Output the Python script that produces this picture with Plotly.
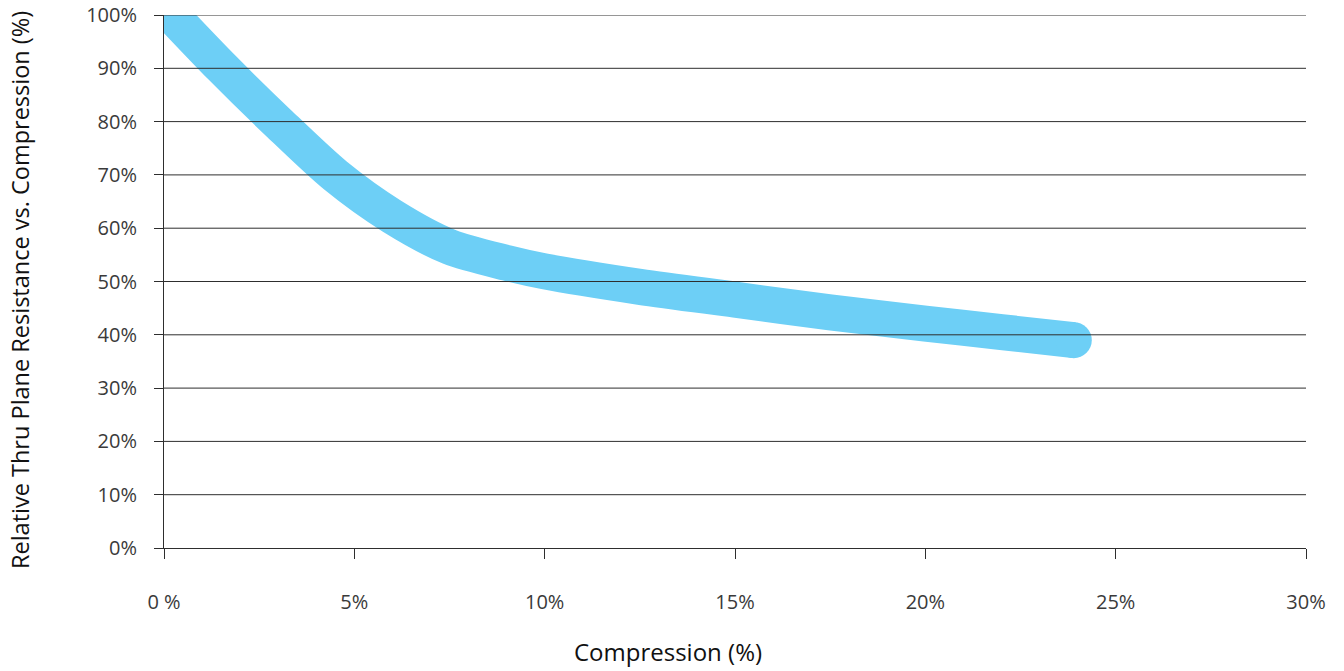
import plotly.graph_objects as go

# Data
compression_pct = [0, 1.5, 3.0, 4.5, 6.0, 7.5, 9.0, 10.0, 12.5, 15.0, 17.5, 20.0, 22.0, 23.9]
resistance_pct = [101.5, 90.3, 79.8, 69.9, 62.2, 56.5, 53.5, 51.9, 49.0, 46.6, 44.2, 42.1, 40.5, 39.0]

x_tickvals = [0, 5, 10, 15, 20, 25, 30]
x_ticktext = ["0 %", "5%", "10%", "15%", "20%", "25%", "30%"]
y_tickvals = [0, 10, 20, 30, 40, 50, 60, 70, 80, 90, 100]
y_ticktext = [f"{v}%" for v in y_tickvals]

x_title = "Compression (%)"
y_title = "Relative Thru Plane Resistance vs. Compression (%)"

LINE_COLOR = "#6dcff6"
GRID_COLOR = "#2e2e2e"
FONT = "Open Sans"

fig = go.Figure()
fig.add_trace(go.Scatter(
    x=compression_pct, y=resistance_pct, mode="lines",
    line=dict(color=LINE_COLOR, width=36, shape="spline", smoothing=0.8),
    hoverinfo="skip", showlegend=False,
))
# rounded cap at the end of the band
fig.add_trace(go.Scatter(
    x=compression_pct[-1:], y=resistance_pct[-1:], mode="markers",
    marker=dict(color=LINE_COLOR, size=36, line=dict(width=0)),
    hoverinfo="skip", showlegend=False,
))

# horizontal gridlines drawn above the band
for v in y_tickvals[1:]:
    fig.add_shape(type="line", xref="paper", yref="y", x0=0, x1=1, y0=v, y1=v,
                  line=dict(color=GRID_COLOR, width=1), layer="above")

# axis titles (centred on the whole figure, as in the reference)
fig.add_annotation(text=x_title, xref="paper", yref="paper", x=0.4413, y=-0.195,
                   xanchor="center", yanchor="middle", showarrow=False,
                   font=dict(family=FONT, size=24, color="#111"))
fig.add_annotation(text=y_title, xref="paper", yref="paper", x=-0.1261, y=0.484,
                   xanchor="center", yanchor="middle", showarrow=False, textangle=-90,
                   font=dict(family=FONT, size=23.5, color="#111"))

fig.update_layout(
    width=1344, height=671,
    margin=dict(l=164, r=38, t=15, b=123, autoexpand=False),
    paper_bgcolor="white", plot_bgcolor="white",
    font=dict(family=FONT, color="#3a3a3a", size=20),
    showlegend=False,
)
fig.update_xaxes(
    range=[0, 30], tickvals=x_tickvals, ticktext=x_ticktext,
    showgrid=False, zeroline=False, automargin=False,
    showline=True, linecolor=GRID_COLOR, linewidth=1,
    ticks="outside", ticklen=10, tickcolor=GRID_COLOR, tickwidth=1,
    ticklabelstandoff=26, ticklabeloverflow="allow",
    tickfont=dict(family=FONT, size=20, color="#3a3a3a"),
)
fig.update_yaxes(
    range=[0, 100], tickvals=y_tickvals, ticktext=y_ticktext,
    showgrid=False, zeroline=False, automargin=False,
    showline=True, linecolor=GRID_COLOR, linewidth=1,
    ticks="outside", ticklen=9, tickcolor=GRID_COLOR, tickwidth=1,
    ticklabelstandoff=13, ticklabeloverflow="allow",
    tickfont=dict(family=FONT, size=20, color="#3a3a3a"),
)

fig.write_html("out.html", config={"displayModeBar": False},
               post_script="document.body.style.margin='0';")
